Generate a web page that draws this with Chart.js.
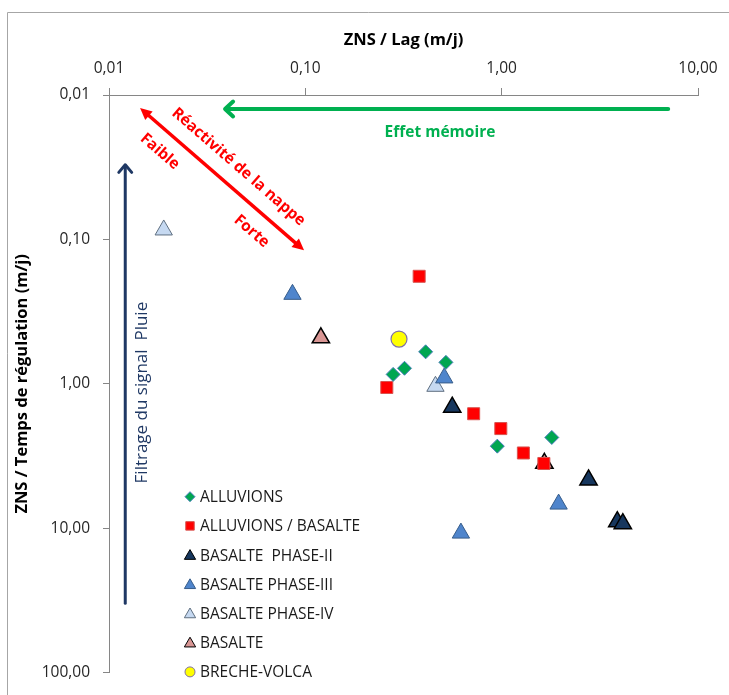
<!DOCTYPE html>
<html>
<head>
<meta charset="utf-8">
<script src="https://cdn.jsdelivr.net/npm/chart.js@4/dist/chart.umd.min.js"></script>
<style>
  html, body { margin: 0; padding: 0; background: #ffffff; }
  canvas { display: block; }
</style>
</head>
<body>
<canvas id="chart" width="729" height="695"></canvas>
<script>
// Axis ticks (decades) and their printed labels
const xTickValues = [0.01, 0.1, 1, 10];
const xTickLabels = ['0,01', '0,10', '1,00', '10,00'];
const yTickValues = [0.01, 0.1, 1, 10, 100];
const yTickLabels = ['0,01', '0,10', '1,00', '10,00', '100,00'];

// Series names
const seriesNames = ['ALLUVIONS', 'ALLUVIONS / BASALTE', 'BASALTE  PHASE-II', 'BASALTE PHASE-III',
                     'BASALTE PHASE-IV', 'BASALTE', 'BRECHE-VOLCA'];

// ZNS / Lag (x) and ZNS / Temps de régulation (y), m/j
const alluvionsX = [0.28, 0.32, 0.41, 0.52, 0.95, 1.80];
const alluvionsY = [0.86, 0.78, 0.60, 0.71, 2.70, 2.35];
const alluvBasalteX = [0.26, 0.38, 0.72, 0.99, 1.29, 1.64];
const alluvBasalteY = [1.06, 0.18, 1.61, 2.04, 3.01, 3.56];
const phase2X = [0.56, 2.77, 3.88, 4.14];
const phase2Y = [1.45, 4.63, 9.0, 9.3];
const phase3X = [0.086, 0.51, 1.95, 0.62];
const phase3Y = [0.24, 0.91, 6.8, 10.8];
const phase4X = [0.019, 0.46];
const phase4Y = [0.086, 1.04];
const basalteX = [0.12, 1.65];
const basalteY = [0.48, 3.55];
const brecheX = [0.30];
const brecheY = [0.49];

const FONT_W = '"Open Sans", Lato, "Liberation Sans", sans-serif';

function pts(xs, ys) { return xs.map((x, i) => ({ x: x, y: ys[i] })); }

const styles = [
  { style: 'rectRot',  r: 7,   bg: '#00a651', border: '#4a7ebb', bw: 1 },
  { style: 'rect',     r: 8.5, bg: '#ff0000', border: '#d9534f', bw: 1 },
  { style: 'triangle', r: 10,  bg: '#17375e', border: '#000000', bw: 1.5 },
  { style: 'triangle', r: 10,  bg: '#4f85cc', border: '#385d8a', bw: 1 },
  { style: 'triangle', r: 10,  bg: '#c6d9f1', border: '#5f6f80', bw: 1 },
  { style: 'triangle', r: 10,  bg: '#d99694', border: '#000000', bw: 1.5 },
  { style: 'circle',   r: 8,   bg: '#ffff00', border: '#7f6fa8', bw: 1.2 }
];
const seriesData = [
  pts(alluvionsX, alluvionsY), pts(alluvBasalteX, alluvBasalteY), pts(phase2X, phase2Y),
  pts(phase3X, phase3Y), pts(phase4X, phase4Y), pts(basalteX, basalteY), pts(brecheX, brecheY)
];

const datasets = seriesNames.map((name, i) => ({
  label: name,
  data: seriesData[i],
  pointStyle: styles[i].style,
  pointRadius: styles[i].r,
  pointHoverRadius: styles[i].r,
  pointBackgroundColor: styles[i].bg,
  pointBorderColor: styles[i].border,
  pointBorderWidth: styles[i].bw,
  showLine: false
}));

// Simple marker painter for the in-plot legend
function drawMarker(ctx, s, x, y, r) {
  ctx.save();
  ctx.fillStyle = s.bg;
  ctx.strokeStyle = s.border;
  ctx.lineWidth = 1;
  ctx.beginPath();
  if (s.style === 'rectRot') {
    ctx.moveTo(x - r, y); ctx.lineTo(x, y - r); ctx.lineTo(x + r, y); ctx.lineTo(x, y + r);
    ctx.closePath();
  } else if (s.style === 'rect') {
    const h = r * Math.SQRT1_2;
    ctx.rect(x - h, y - h, 2 * h, 2 * h);
  } else if (s.style === 'triangle') {
    ctx.moveTo(x, y - r);
    ctx.lineTo(x + r * Math.sin(Math.PI / 3), y + r / 2);
    ctx.lineTo(x - r * Math.sin(Math.PI / 3), y + r / 2);
    ctx.closePath();
  } else {
    ctx.arc(x, y, r, 0, Math.PI * 2);
  }
  ctx.fill();
  ctx.stroke();
  ctx.restore();
}

function arrowHead(ctx, tx, ty, ang, len, wide, filled) {
  ctx.beginPath();
  ctx.moveTo(tx - len * Math.cos(ang - wide), ty - len * Math.sin(ang - wide));
  ctx.lineTo(tx, ty);
  ctx.lineTo(tx - len * Math.cos(ang + wide), ty - len * Math.sin(ang + wide));
  if (filled) { ctx.closePath(); ctx.fill(); } else { ctx.stroke(); }
}

// Annotation anchors, in data units
const memoireArrow = { xFrom: 7.05, xTo: 0.039, y: 0.0125 };
const memoireLabel = { x: 0.485, y: 0.0183 };
const reactArrow = { x1: 0.0144, y1: 0.0123, x2: 0.0985, y2: 0.119 };
const pluieArrow = { x: 0.0121, yFrom: 33, yTo: 0.0304 };
const pluieLabelY = 1.15;

const annotations = {
  id: 'annotations',
  beforeDatasetsDraw(chart) {
    const ctx = chart.ctx, xs = chart.scales.x, ys = chart.scales.y;
    ctx.save();
    ctx.lineCap = 'round';
    ctx.lineJoin = 'round';

    // "Effet mémoire" arrow (green, pointing left)
    const gx1 = xs.getPixelForValue(memoireArrow.xFrom);
    const gx2 = xs.getPixelForValue(memoireArrow.xTo);
    const gy = ys.getPixelForValue(memoireArrow.y);
    ctx.strokeStyle = '#00b050';
    ctx.lineWidth = 4;
    ctx.beginPath(); ctx.moveTo(gx1, gy); ctx.lineTo(gx2 + 2, gy); ctx.stroke();
    arrowHead(ctx, gx2, gy, Math.PI, 11, 0.75, false);
    ctx.fillStyle = '#00b050';
    ctx.font = 'bold 15.5px ' + FONT_W;
    ctx.textAlign = 'center';
    ctx.textBaseline = 'middle';
    ctx.fillText('Effet mémoire', xs.getPixelForValue(memoireLabel.x), ys.getPixelForValue(memoireLabel.y));

    // "Réactivité de la nappe" double arrow (red)
    const ax = xs.getPixelForValue(reactArrow.x1), ay = ys.getPixelForValue(reactArrow.y1);
    const bx = xs.getPixelForValue(reactArrow.x2), by = ys.getPixelForValue(reactArrow.y2);
    const ang = Math.atan2(by - ay, bx - ax);
    const len = Math.hypot(bx - ax, by - ay);
    const ux = Math.cos(ang), uy = Math.sin(ang);
    const nx = Math.sin(ang), ny = -Math.cos(ang);
    ctx.strokeStyle = '#ff0000';
    ctx.fillStyle = '#ff0000';
    ctx.lineWidth = 3.5;
    ctx.lineCap = 'butt';
    ctx.beginPath(); ctx.moveTo(ax + ux * 8, ay + uy * 8); ctx.lineTo(bx - ux * 8, by - uy * 8); ctx.stroke();
    arrowHead(ctx, bx, by, ang, 13, 0.45, true);
    arrowHead(ctx, ax, ay, ang + Math.PI, 13, 0.45, true);
    ctx.font = 'bold 15.5px ' + FONT_W;
    const tlabel = (txt, along, off) => {
      ctx.save();
      ctx.translate(ax + ux * along + nx * off, ay + uy * along + ny * off);
      ctx.rotate(ang);
      ctx.fillText(txt, 0, 0);
      ctx.restore();
    };
    tlabel('Réactivité de la nappe', len * 0.52, 20);
    tlabel('Faible', len * 0.2, -20);
    tlabel('Forte', len * 0.76, -20);

    // "Filtrage du signal  Pluie" arrow (navy, pointing up)
    const px = xs.getPixelForValue(pluieArrow.x);
    const py1 = ys.getPixelForValue(pluieArrow.yFrom);
    const py2 = ys.getPixelForValue(pluieArrow.yTo);
    ctx.strokeStyle = '#1f3864';
    ctx.fillStyle = '#1f3864';
    ctx.lineWidth = 3;
    ctx.lineCap = 'round';
    ctx.beginPath(); ctx.moveTo(px, py1); ctx.lineTo(px, py2 + 1); ctx.stroke();
    arrowHead(ctx, px, py2, -Math.PI / 2, 10, 0.7, false);
    ctx.save();
    ctx.translate(px + 17, ys.getPixelForValue(pluieLabelY));
    ctx.rotate(-Math.PI / 2);
    ctx.font = '17px ' + FONT_W;
    ctx.fillText('Filtrage du signal  Pluie', 0, 0);
    ctx.restore();

    ctx.restore();
  },
  afterDraw(chart) {
    const ctx = chart.ctx, area = chart.chartArea;
    ctx.save();
    // outer frame (top and left edges)
    ctx.strokeStyle = '#a6a6a6';
    ctx.lineWidth = 1;
    ctx.beginPath();
    ctx.moveTo(7.5, chart.height); ctx.lineTo(7.5, 12.5); ctx.lineTo(chart.width, 12.5);
    ctx.stroke();

    // legend inside the plot area, lower left
    const lx = area.left + 81, ly0 = area.bottom - 176, step = 29.2;
    ctx.font = '15.5px ' + FONT_W;
    ctx.textAlign = 'left';
    ctx.textBaseline = 'middle';
    seriesNames.forEach((name, i) => {
      const y = ly0 + i * step;
      const s = styles[i];
      const r = s.style === 'triangle' ? 6.5 : (s.style === 'rect' ? 6 : 5);
      drawMarker(ctx, s, lx, y + (s.style === 'triangle' ? 1 : 0), r);
      ctx.fillStyle = '#1a1a1a';
      ctx.fillText(name, lx + 10, y + 1);
    });
    ctx.restore();
  }
};

new Chart(document.getElementById('chart'), {
  type: 'scatter',
  data: { datasets: datasets },
  options: {
    responsive: false,
    devicePixelRatio: 1,
    animation: false,
    layout: { padding: { left: 0, top: 0, right: 31, bottom: 20 } },
    plugins: { legend: { display: false }, tooltip: { enabled: false } },
    scales: {
      x: {
        type: 'logarithmic',
        position: 'top',
        min: 0.01,
        max: 10,
        afterBuildTicks: (s) => { s.ticks = xTickValues.map(v => ({ value: v })); },
        afterFit: (s) => { s.height = 95; },
        ticks: {
          autoSkip: false,
          maxRotation: 0,
          padding: 10,
          color: '#262626',
          font: { family: FONT_W, size: 15.5 },
          callback: (v) => { const i = xTickValues.indexOf(v); return i >= 0 ? xTickLabels[i] : ''; }
        },
        grid: { drawOnChartArea: false, drawTicks: true, tickLength: 7, color: '#868686' },
        border: { display: true, color: '#868686' },
        title: {
          display: true, text: 'ZNS / Lag (m/j)', color: '#000000',
          font: { family: FONT_W, size: 16.5, weight: 'bold' },
          padding: { top: 30, bottom: 0 }
        }
      },
      y: {
        type: 'logarithmic',
        reverse: true,
        min: 0.01,
        max: 100,
        afterBuildTicks: (s) => { s.ticks = yTickValues.map(v => ({ value: v })); },
        afterFit: (s) => { s.width = 109; },
        ticks: {
          autoSkip: false,
          padding: 13,
          color: '#262626',
          font: { family: FONT_W, size: 15.5 },
          callback: (v) => { const i = yTickValues.indexOf(v); return i >= 0 ? yTickLabels[i] : ''; }
        },
        grid: { drawOnChartArea: false, drawTicks: true, tickLength: 6, color: '#868686' },
        border: { display: true, color: '#868686' },
        title: {
          display: true, text: 'ZNS / Temps de régulation (m/j)', color: '#000000',
          font: { family: FONT_W, size: 16.5, weight: 'bold' },
          padding: { top: 12, bottom: 0 }
        }
      }
    }
  },
  plugins: [annotations]
});
</script>
</body>
</html>
